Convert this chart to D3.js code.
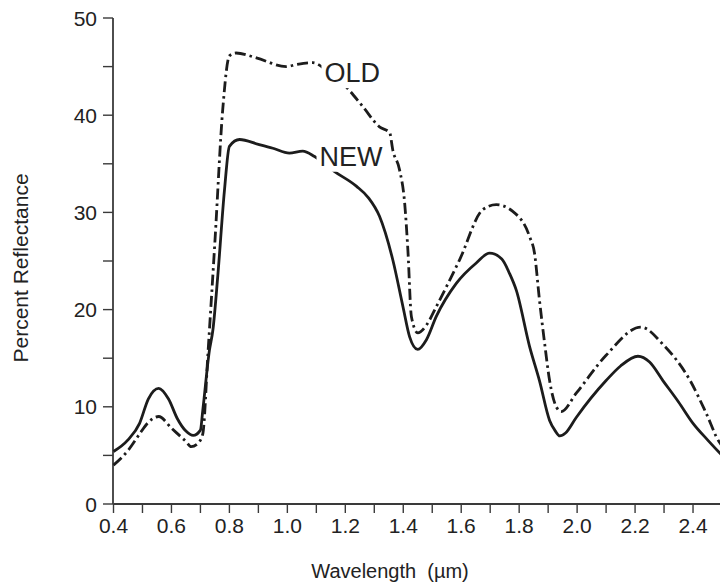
<!DOCTYPE html>
<html>
<head>
<meta charset="utf-8">
<script src="https://cdn.jsdelivr.net/npm/d3@7"></script>
<style>
  html, body { margin: 0; padding: 0; background: #fff; }
  svg { display: block; font-family: "Liberation Sans", Arial, Helvetica, sans-serif; }
</style>
</head>
<body>
<svg id="chart" width="720" height="587"></svg>
<script>
// Wavelength samples (µm) and percent reflectance for each leaf spectrum
const newWavelength = [0.40, 0.45, 0.49, 0.52, 0.556, 0.59, 0.62, 0.65, 0.675, 0.70, 0.708, 0.731, 0.743, 0.76, 0.783, 0.80, 0.835, 0.90, 0.95, 1.007, 1.053, 1.094, 1.163, 1.238, 1.28, 1.318, 1.364, 1.399, 1.422, 1.45, 1.48, 1.514, 1.583, 1.652, 1.698, 1.74, 1.767, 1.79, 1.836, 1.87, 1.905, 1.925, 1.94, 1.96, 1.997, 2.10, 2.15, 2.21, 2.25, 2.296, 2.35, 2.40, 2.45, 2.50];
const newReflectance = [5.4, 6.6, 8.3, 10.8, 11.9, 10.8, 8.8, 7.5, 7.05, 7.6, 9.6, 15.8, 17.9, 23.5, 32.3, 36.8, 37.5, 37.0, 36.6, 36.1, 36.3, 35.75, 34.2, 32.7, 31.5, 29.6, 25.1, 20.3, 17.2, 15.9, 16.9, 19.3, 22.7, 24.8, 25.8, 25.2, 23.7, 22.0, 16.2, 12.7, 8.6, 7.5, 7.0, 7.3, 8.9, 12.7, 14.2, 15.2, 14.6, 12.7, 10.5, 8.3, 6.6, 5.0];

const oldWavelength = [0.40, 0.45, 0.49, 0.52, 0.556, 0.60, 0.651, 0.668, 0.69, 0.708, 0.726, 0.75, 0.777, 0.80, 0.823, 0.893, 0.996, 1.03, 1.088, 1.14, 1.20, 1.26, 1.318, 1.353, 1.364, 1.387, 1.405, 1.416, 1.428, 1.45, 1.48, 1.514, 1.594, 1.675, 1.721, 1.778, 1.836, 1.853, 1.87, 1.888, 1.905, 1.928, 1.945, 1.997, 2.10, 2.22, 2.30, 2.39, 2.446, 2.49, 2.50];
const oldReflectance = [4.0, 5.5, 7.2, 8.4, 9.0, 7.8, 6.4, 5.9, 6.2, 7.2, 15.5, 27.0, 40.6, 46.1, 46.4, 45.9, 45.0, 45.2, 45.4, 44.5, 43.0, 40.9, 38.8, 38.2, 36.4, 34.4, 30.9, 26.1, 19.3, 17.6, 18.4, 20.3, 25.1, 30.3, 30.8, 30.1, 27.5, 25.8, 21.0, 16.5, 12.7, 10.0, 9.5, 11.4, 15.3, 18.2, 16.3, 12.7, 9.3, 6.4, 6.0];

// Axis ticks
const xMajorTicks = [0.4, 0.6, 0.8, 1.0, 1.2, 1.4, 1.6, 1.8, 2.0, 2.2, 2.4];
const xMinorTicks = [0.5, 0.7, 0.9, 1.1, 1.3, 1.5, 1.7, 1.9, 2.1, 2.3];
const yMajorTicks = [0, 10, 20, 30, 40, 50];
const yMinorTicks = [5, 15, 25, 35, 45];

// Series labels: [text, wavelength, reflectance at baseline]
const seriesLabels = [["OLD", 1.128, 43.4], ["NEW", 1.111, 34.8]];

const svg = d3.select("#chart");
const ink = "#1c1c1c";
const axisInk = "#3a3a3a";

const x = d3.scaleLinear().domain([0.4, 2.5]).range([113.5, 722]);
const y = d3.scaleLinear().domain([0, 50]).range([504, 18]);

// X axis
const xAxisG = svg.append("g").attr("transform", `translate(0,${y(0)})`);
xAxisG.append("line")
  .attr("x1", x(0.4)).attr("x2", 720)
  .attr("stroke", axisInk).attr("stroke-width", 1.8);
xAxisG.selectAll("line.tick")
  .data(xMajorTicks.concat(xMinorTicks))
  .join("line")
  .attr("class", "tick")
  .attr("x1", d => x(d)).attr("x2", d => x(d))
  .attr("y1", 0).attr("y2", 9)
  .attr("stroke", axisInk).attr("stroke-width", 1.4);
xAxisG.selectAll("text")
  .data(xMajorTicks)
  .join("text")
  .attr("x", d => x(d))
  .attr("y", 29)
  .attr("text-anchor", "middle")
  .attr("font-size", 21)
  .attr("fill", "#222")
  .text(d => d3.format(".1f")(d));

// Y axis
const yAxisG = svg.append("g").attr("transform", `translate(${x(0.4) - 0.5},0)`);
yAxisG.append("line")
  .attr("y1", y(50)).attr("y2", y(0))
  .attr("stroke", axisInk).attr("stroke-width", 1.8);
yAxisG.selectAll("line.tick")
  .data(yMajorTicks.concat(yMinorTicks))
  .join("line")
  .attr("class", "tick")
  .attr("y1", d => y(d)).attr("y2", d => y(d))
  .attr("x1", -10).attr("x2", 0)
  .attr("stroke", axisInk).attr("stroke-width", 1.4);
yAxisG.selectAll("text")
  .data(yMajorTicks)
  .join("text")
  .attr("x", -16)
  .attr("y", d => y(d))
  .attr("dy", "0.36em")
  .attr("text-anchor", "end")
  .attr("font-size", 21)
  .attr("fill", "#222")
  .text(d => d);

// Axis titles (non-breaking space keeps the wide gap before the unit)
svg.append("text")
  .attr("x", 390).attr("y", 578)
  .attr("text-anchor", "middle")
  .attr("font-size", 20)
  .attr("fill", "#222")
  .text("Wavelength \u00a0(µm)");
svg.append("text")
  .attr("transform", "translate(28,268) rotate(-90)")
  .attr("text-anchor", "middle")
  .attr("font-size", 21)
  .attr("fill", "#222")
  .text("Percent Reflectance");

// Spectra
const line = d3.line()
  .x(d => x(d[0]))
  .y(d => y(d[1]))
  .curve(d3.curveMonotoneX);

const plot = svg.append("g");
plot.append("path")
  .datum(d3.zip(oldWavelength, oldReflectance))
  .attr("d", line)
  .attr("fill", "none")
  .attr("stroke", ink)
  .attr("stroke-width", 2.8)
  .attr("stroke-dasharray", "11,4,2.5,4")
  .attr("stroke-linejoin", "round");
plot.append("path")
  .datum(d3.zip(newWavelength, newReflectance))
  .attr("d", line)
  .attr("fill", "none")
  .attr("stroke", ink)
  .attr("stroke-width", 2.8)
  .attr("stroke-linejoin", "round");

// Series labels on a white backing that breaks the curves
const labelG = svg.append("g");
seriesLabels.forEach(([txt, wl, r]) => {
  const t = labelG.append("text")
    .attr("x", x(wl)).attr("y", y(r))
    .attr("font-size", 27)
    .attr("fill", "#222")
    .text(txt);
  const b = t.node().getBBox();
  labelG.insert("rect", "text")
    .attr("x", b.x - 3).attr("y", b.y + 3)
    .attr("width", b.width + 6).attr("height", b.height - 3)
    .attr("fill", "#fff");
});
</script>
</body>
</html>
